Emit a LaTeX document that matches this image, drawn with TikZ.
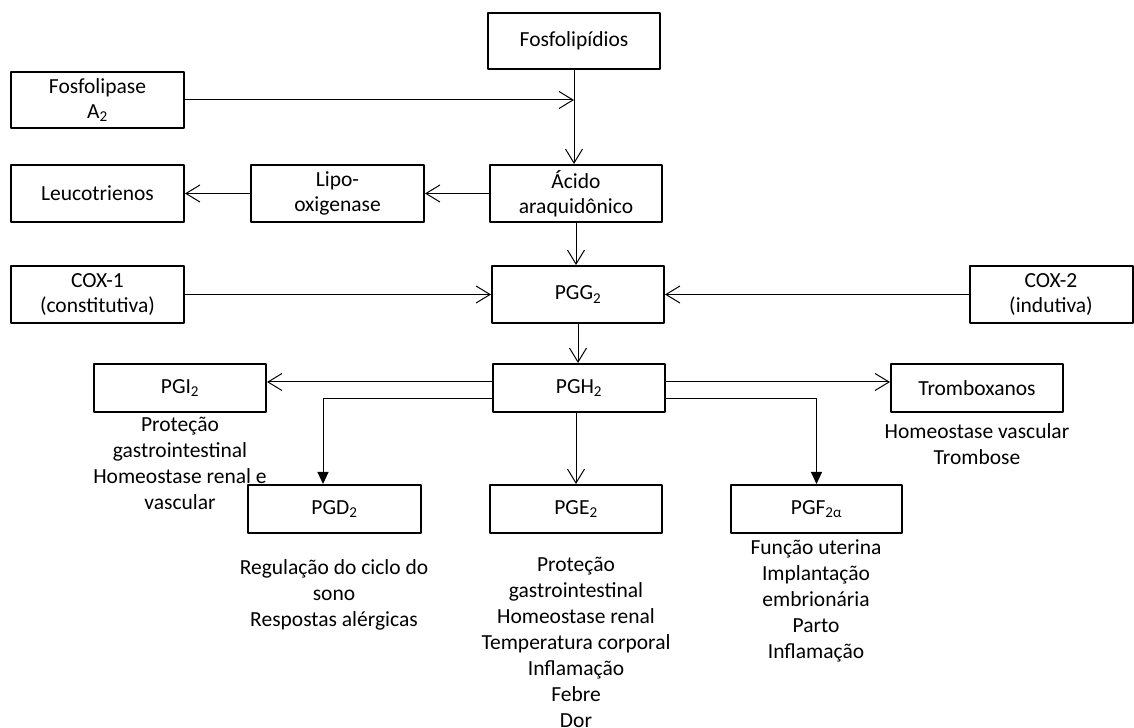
\documentclass[tikz,border=0pt]{standalone}
\usepackage{fontspec}
\setmainfont{Carlito}
\usetikzlibrary{arrows.meta}
\newcommand{\sub}[1]{\textsubscript{#1}}
\begin{document}
\begin{tikzpicture}[>={Straight Barb[length=14bp,width=17bp]},line join=bevel,
  box/.style={draw,line width=2bp,minimum width=172bp,minimum height=57bp,
    inner sep=0pt,align=center,font=\fontsize{21.5bp}{25bp}\selectfont},
  lowbox/.style={box,minimum height=48bp},
  note/.style={anchor=north,inner sep=0pt,align=center,
    font=\fontsize{21.5bp}{26bp}\selectfont},
  edge/.style={line width=1bp},
  fill tip/.style={-{Triangle[length=12bp,width=11bp]}}]
  \useasboundingbox (0bp,0bp) rectangle (1134bp,728bp);
%%
  % Node: Fosfolipidios
  \node [box,minimum height=56bp] (fosfo) at (574bp,687bp) {Fosfolip\'idios};
  % Node: Fosfolipase
  \node [box,minimum width=173bp,minimum height=56bp] (fosfolipase) at (97.5bp,628bp) {Fosfolipase\\A\sub{2}};
  % Node: Leucotrienos
  \node [box,minimum width=173bp] (leuco) at (97.5bp,534.5bp) {Leucotrienos};
  % Node: Lipo-oxigenase
  \node [box,minimum width=173bp] (lipo) at (337.5bp,534.5bp) {Lipo-\\oxigenase};
  % Node: Acido araquidonico
  \node [box] (acido) at (576bp,534.5bp) {\'Acido\\araquid\^onico};
  % Node: COX-1
  \node [box,minimum width=173bp] (cox1) at (97.5bp,433.5bp) {COX-1\\(constitutiva)};
  % Node: PGG2
  \node [box] (pgg) at (578bp,433.5bp) {PGG\sub{2}};
  % Node: COX-2
  \node [box,minimum width=163bp] (cox2) at (1051bp,433.5bp) {COX-2\\(indutiva)};
  % Node: PGH2
  \node [lowbox] (pgh) at (579bp,340bp) {PGH\sub{2}};
  % Node: PGI2
  \node [lowbox] (pgi) at (180bp,340bp) {PGI\sub{2}};
  % Node: Tromboxanos
  \node [lowbox] (trombo) at (977bp,340bp) {Tromboxanos};
  % Node: PGD2
  \node [lowbox,minimum width=173bp] (pgd) at (334.5bp,219bp) {PGD\sub{2}};
  % Node: PGE2
  \node [lowbox] (pge) at (576bp,219bp) {PGE\sub{2}};
  % Node: PGF2alpha
  \node [lowbox,minimum width=171bp] (pgf) at (816.5bp,219bp) {PGF\sub{2α}};
%
  % Notes
  \node [note] (pginote) at (180bp,311bp) {Proteção\\gastrointestinal\\Homeostase renal e\\vascular};
  \node [note] (trombonote) at (977bp,305bp) {Homeostase vascular\\Trombose};
  \node [note] (pgdnote) at (334bp,169bp) {Regulação do ciclo do\\sono\\Respostas alérgicas};
  \node [note] (pgenote) at (576bp,171bp) {Proteção\\gastrointestinal\\Homeostase renal\\Temperatura corporal\\Inflamação\\Febre\\Dor};
  \node [note] (pgfnote) at (816bp,188bp) {Função uterina\\Implantação\\embrionária\\Parto\\Inflamação};
%
  % Edge: Fosfolipase -> Fosfolipidios/Acido
  \draw [edge,->] (fosfolipase.east) -- (fosfolipase.east -| fosfo.south);
  % Edge: Fosfolipidios -> Acido
  \draw [edge,->] (fosfo.south) -- (fosfo.south |- acido.north);
  % Edge: Acido -> Lipo-oxigenase
  \draw [edge,->] (acido.west) -- (lipo.east);
  % Edge: Lipo-oxigenase -> Leucotrienos
  \draw [edge,->] (lipo.west) -- (leuco.east);
  % Edge: Acido -> PGG2
  \draw [edge,->] (acido.south) -- (acido.south |- pgg.north);
  % Edge: COX-1 -> PGG2
  \draw [edge,->] (cox1.east) -- (pgg.west);
  % Edge: COX-2 -> PGG2
  \draw [edge,->] (cox2.west) -- (pgg.east);
  % Edge: PGG2 -> PGH2
  \draw [edge,->] (pgg.south) -- (pgg.south |- pgh.north);
  % Edge: PGH2 -> PGI2
  \draw [edge,->] ([yshift=6bp]pgh.west) -- ([yshift=6bp]pgh.west -| pgi.east);
  % Edge: PGH2 -> Tromboxanos
  \draw [edge,->] ([yshift=6bp]pgh.east) -- ([yshift=6bp]pgh.east -| trombo.west);
  % Edge: PGH2 -> PGD2
  \draw [edge,fill tip] ([yshift=-11bp]pgh.west) -| ([xshift=-11.5bp]pgd.north);
  % Edge: PGH2 -> PGE2
  \draw [edge,->] (pge.north |- pgh.south) -- (pge.north);
  % Edge: PGH2 -> PGF2alpha
  \draw [edge,fill tip] ([yshift=-11bp]pgh.east) -| (pgf.north);
%
\end{tikzpicture}
\end{document}
